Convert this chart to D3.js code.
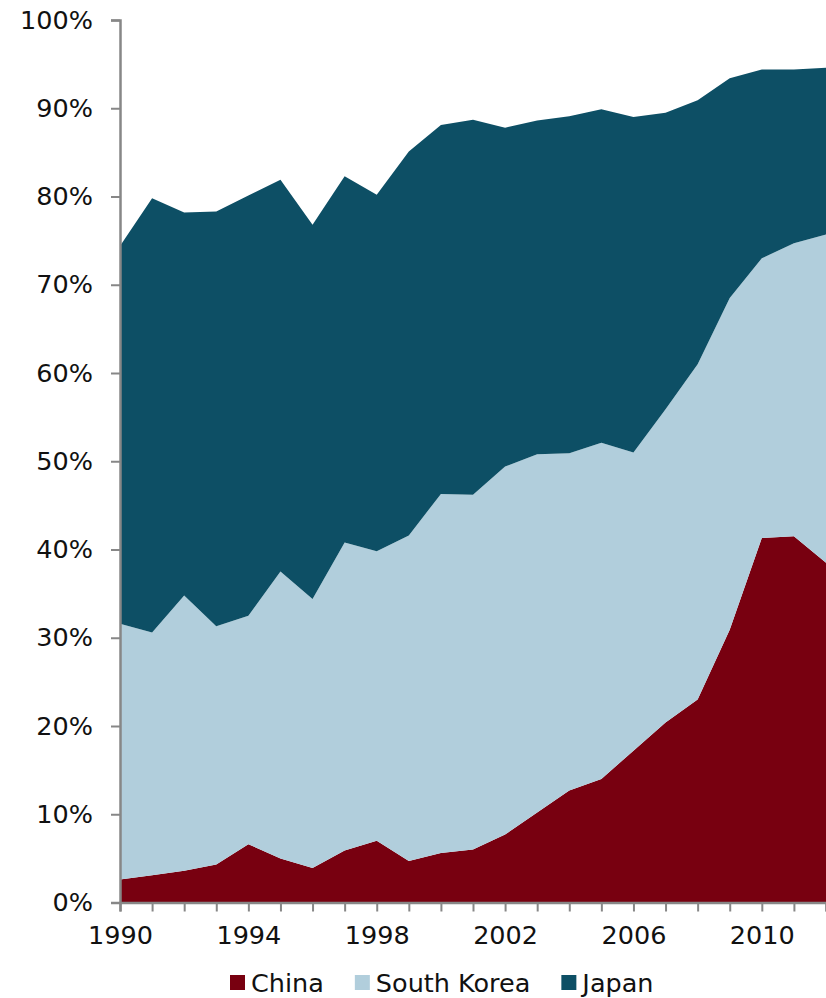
<!DOCTYPE html>
<html>
<head>
<meta charset="utf-8">
<script src="https://cdn.jsdelivr.net/npm/d3@7/dist/d3.min.js"></script>
<style>
  html, body { margin: 0; padding: 0; background: #fff; }
  svg { display: block; }
  text { font-family: "DejaVu Sans", Verdana, sans-serif; fill: #111; }
</style>
</head>
<body>
<svg id="chart" width="826" height="998"></svg>
<script>
// Share of each country, percent, 1990–2012
const years = d3.range(1990, 2013);
const china = [2.6, 3.1, 3.6, 4.3, 6.6, 5.0, 3.9, 5.9, 7.0, 4.7, 5.6, 6.0, 7.7, 10.2, 12.7, 14.0, 17.2, 20.4, 23.0, 30.9, 41.3, 41.5, 38.5];
const southKorea = [29.0, 27.5, 31.2, 27.0, 25.9, 32.5, 30.5, 34.9, 32.8, 36.9, 40.7, 40.2, 41.7, 40.6, 38.2, 38.1, 33.8, 35.5, 38.0, 37.6, 31.7, 33.2, 37.2];
const japan = [42.8, 49.2, 43.4, 47.0, 47.6, 44.4, 42.4, 41.5, 40.4, 43.5, 41.8, 42.5, 38.4, 37.8, 38.2, 37.8, 38.0, 33.6, 29.9, 24.9, 21.4, 19.7, 18.9];

const seriesNames = ["China", "South Korea", "Japan"];
const seriesColors = ["#780010", "#b1cedc", "#0d4f65"];
const yTickValues = [0, 10, 20, 30, 40, 50, 60, 70, 80, 90, 100];
const xLabelYears = [1990, 1994, 1998, 2002, 2006, 2010];

const rows = years.map((yr, i) => ({
  year: yr,
  "China": china[i],
  "South Korea": southKorea[i],
  "Japan": japan[i]
}));

const svg = d3.select("#chart");
const plotLeft = 120, plotRight = 826, plotTop = 20, plotBottom = 902.5;

const x = d3.scaleLinear().domain([1990, 2012]).range([plotLeft, plotRight]);
const y = d3.scaleLinear().domain([0, 100]).range([plotBottom, plotTop]);
const color = d3.scaleOrdinal().domain(seriesNames).range(seriesColors);

const stacked = d3.stack().keys(seriesNames)(rows);

const area = d3.area()
  .x(d => x(d.data.year))
  .y0(d => y(d[0]))
  .y1(d => y(d[1]));

svg.append("g")
  .selectAll("path")
  .data(stacked)
  .join("path")
  .attr("d", area)
  .attr("fill", d => color(d.key));

// Axes
const axisGrey = "#878787";

const yAxis = svg.append("g")
  .attr("transform", `translate(${plotLeft},0)`)
  .call(d3.axisLeft(y).tickValues(yTickValues).tickSize(9).tickPadding(18)
    .tickFormat(d => d + "%"));
yAxis.select(".domain").attr("stroke", axisGrey).attr("stroke-width", 2.5);
yAxis.selectAll(".tick line").attr("stroke", axisGrey).attr("stroke-width", 2);
yAxis.selectAll(".tick text")
  .attr("font-size", 25.5)
  .attr("font-family", "DejaVu Sans, Verdana, sans-serif")
  .attr("fill", "#111");

const xAxis = svg.append("g")
  .attr("transform", `translate(0,${plotBottom})`)
  .call(d3.axisBottom(x).tickValues(years).tickSize(9).tickPadding(14)
    .tickFormat(d => xLabelYears.includes(d) ? String(d) : ""));
xAxis.select(".domain").attr("stroke", axisGrey).attr("stroke-width", 2.5);
xAxis.selectAll(".tick line").attr("stroke", axisGrey).attr("stroke-width", 2);
xAxis.selectAll(".tick text")
  .attr("font-size", 25.5)
  .attr("font-family", "DejaVu Sans, Verdana, sans-serif")
  .attr("fill", "#111");

// Legend
const legend = svg.append("g").attr("transform", "translate(230,975)");
let cursor = 0;
seriesNames.forEach((name, i) => {
  const g = legend.append("g").attr("transform", `translate(${cursor},0)`);
  g.append("rect").attr("width", 15).attr("height", 15).attr("fill", seriesColors[i]);
  const t = g.append("text")
    .attr("x", 21).attr("y", 17)
    .attr("font-size", 25.5)
    .text(name);
  cursor += 21 + t.node().getComputedTextLength() + 31;
});
</script>
</body>
</html>
